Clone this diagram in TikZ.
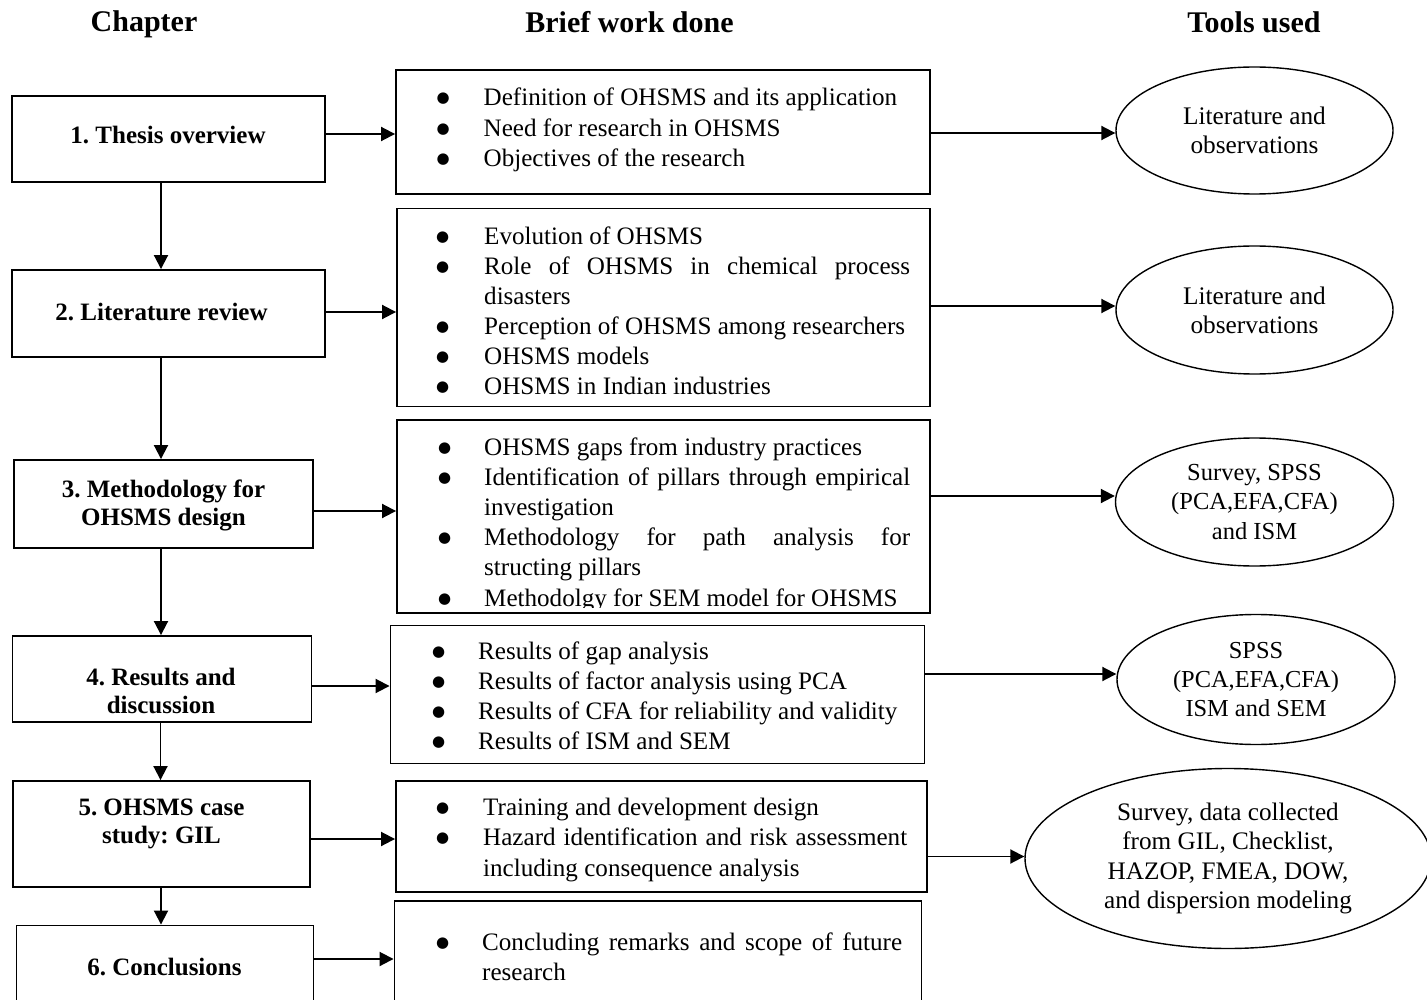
\documentclass[tikz,border=0pt]{standalone}
\usepackage{fontspec}
\setmainfont{Liberation Serif}
\newfontfamily\dotfont{DejaVu Sans}
\usetikzlibrary{arrows.meta,shapes.geometric}
\frenchspacing

% bulleted, justified list with hanging indent
\newlength\bind
\newcommand\bigbullet{\kern-1pt\raisebox{3pt}{\dotfont\fontsize{15}{15}\selectfont ●}}
\newcommand\bitem[1]{\par\hangindent=\bind\hangafter=1\noindent\hbox to\bind{\bigbullet\hfil}#1\par}
\newcommand\blist[4]{\vtop{\hsize=#1\bind=#2\parskip=0pt\parindent=0pt\tolerance=9999\emergencystretch=10pt\fontsize{25.1}{#3}\selectfont #4}}
% centred chapter title, baseline on its first line
\newcommand\ctitle[1]{\vtop{\hsize=290pt\centering #1}}

\begin{document}
\begin{tikzpicture}[x=1pt,y=-1pt,
  chap/.style={draw,line width=1.9pt,inner sep=0},
  chaptext/.style={anchor=base,inner sep=0,font=\fontsize{25}{28.5}\selectfont\bfseries},
  work/.style={draw,line width=1.9pt,inner sep=0},
  worktext/.style={anchor=base west,inner sep=0},
  tool/.style={draw,ellipse,line width=1.4pt,inner sep=0,align=center},
  head/.style={anchor=base,inner sep=0,font=\fontsize{30}{36}\selectfont\bfseries},
  link/.style={line width=1.9pt,-{Triangle[length=14pt,width=14pt]}}]
\useasboundingbox (0,0) rectangle (1427,1000);

% column headings
\node[head] (hc) at (144,32) {Chapter};
\node[head] (hw) at (629.5,33) {Brief work done};
\node[head] (ht) at (1254,33) {Tools used};

% chapter boxes
\node[chap,minimum width=313pt,minimum height=86pt] (c1) at (168.5,139) {};
\node[chap,minimum width=313pt,minimum height=87pt] (c2) at (168.5,313.5) {};
\node[chap,minimum width=299pt,minimum height=88pt] (c3) at (163.5,504) {};
\node[chap,minimum width=299pt,minimum height=86pt] (c4) at (162,679) {};
\node[chap,minimum width=297pt,minimum height=106pt] (c5) at (161.7,834) {};
\node[chap,minimum width=297pt,minimum height=79pt] (c6) at (165,965) {};

\node[chaptext] (c1t) at (168,144) {\ctitle{1. Thesis overview}};
\node[chaptext] (c2t) at (161.5,320) {\ctitle{2. Literature review}};
\node[chaptext] (c3t) at (163.5,497) {\ctitle{3. Methodology for\\OHSMS design}};
\node[chaptext] (c4t) at (161,685) {\ctitle{4. Results and\\discussion}};
\node[chaptext] (c5t) at (161.5,815) {\ctitle{5. OHSMS case\\study: GIL}};
\node[chaptext] (c6t) at (164.5,975) {\ctitle{6. Conclusions}};

% work boxes
\node[work,minimum width=534pt,minimum height=124pt] (m1) at (663,132) {};
\node[work,minimum width=533pt,minimum height=198pt] (m2) at (663.5,307.5) {};
\node[work,minimum width=533pt,minimum height=193pt] (m3) at (663.5,516.5) {};
\node[work,minimum width=534pt,minimum height=138pt] (m4) at (657.5,694.5) {};
\node[work,minimum width=531pt,minimum height=111pt] (m5) at (661.5,836.5) {};
\node[work,minimum width=527pt,minimum height=104pt] (m6) at (658,953) {};

\node[worktext] (m1t) at (437.5,106) {\blist{472.5pt}{46pt}{30.5}{%
  \bitem{Definition of OHSMS and its application}
  \bitem{Need for research in OHSMS}
  \bitem{Objectives of the research}}};
\node[worktext] (m2t) at (437,245) {\blist{473pt}{47pt}{30}{%
  \bitem{Evolution of OHSMS}
  \bitem{Role of OHSMS in chemical process\linebreak disasters}
  \bitem{Perception of OHSMS among researchers}
  \bitem{OHSMS models}
  \bitem{OHSMS in Indian industries}}};
\begin{scope}
  \clip (397,420) rectangle (930,607);
  \node[worktext] (m3t) at (439,455) {\blist{471pt}{45pt}{30.2}{%
    \bitem{OHSMS gaps from industry practices}
    \bitem{Identification of pillars through empirical\linebreak investigation}
    \bitem{Methodology for path analysis for\linebreak structing pillars}
    \bitem{Methodolgy for SEM model for OHSMS}}};
\end{scope}
\node[worktext] (m4t) at (433,659) {\blist{480pt}{45pt}{30.3}{%
  \bitem{Results of gap analysis}
  \bitem{Results of factor analysis using PCA}
  \bitem{Results of CFA for reliability and validity}
  \bitem{Results of ISM and SEM}}};
\node[worktext] (m5t) at (437,815) {\blist{470pt}{46pt}{30.5}{%
  \bitem{Training and development design}
  \bitem{Hazard identification and risk assessment\linebreak including consequence analysis}}};
\node[worktext] (m6t) at (437,950) {\blist{465pt}{45pt}{30}{%
  \bitem{Concluding remarks and scope of future\linebreak research}}};

% tools
\node[tool,minimum width=277pt,minimum height=127pt,font=\fontsize{25.3}{28.5}\selectfont] (e1) at (1254.5,130.5) {Literature and\\observations};
\node[tool,minimum width=277pt,minimum height=128pt,font=\fontsize{25.3}{29}\selectfont] (e2) at (1254.5,310) {Literature and\\observations};
\node[tool,minimum width=278pt,minimum height=128pt,font=\fontsize{24.5}{29.5}\selectfont] (e3) at (1254.5,502) {Survey, SPSS\\(PCA,EFA,CFA)\\and ISM};
\node[tool,minimum width=278pt,minimum height=130pt,font=\fontsize{24.4}{29}\selectfont] (e4) at (1256,679.5) {SPSS\\(PCA,EFA,CFA)\\ISM and SEM};
\node[tool,minimum width=406pt,minimum height=180pt,font=\fontsize{25.2}{29.5}\selectfont] (e5) at (1228,858.5) {Survey, data collected\\from GIL, Checklist,\\HAZOP, FMEA, DOW,\\and dispersion modeling};

% chapter sequence
\draw[link] (c1.south -| 161,0) -- (c2.north -| 161,0);
\draw[link] (c2.south -| 161,0) -- (c3.north -| 161,0);
\draw[link] (c3.south -| 161,0) -- (c4.north -| 161,0);
\draw[link] (c4.south -| 160.5,0) -- (c5.north -| 160.5,0);
\draw[link] (c5.south -| 161,0) -- (c6.north -| 161,0);

% chapter to work done
\draw[link] (c1.east |- 0,134) -- (m1.west |- 0,134);
\draw[link] (c2.east |- 0,312) -- (m2.west |- 0,312);
\draw[link] (c3.east |- 0,511) -- (m3.west |- 0,511);
\draw[link] (c4.east |- 0,686) -- (m4.west |- 0,686);
\draw[link] (c5.east |- 0,839) -- (m5.west |- 0,839);
\draw[link] (c6.east |- 0,959) -- (m6.west |- 0,959);

% work done to tools
\draw[link] (m1.east |- 0,133) -- (e1.west |- 0,133);
\draw[link] (m2.east |- 0,306) -- (e2.west |- 0,306);
\draw[link] (m3.east |- 0,496) -- (e3.west |- 0,496);
\draw[link] (m4.east |- 0,674) -- (e4.west |- 0,674);
\draw[link] (m5.east |- 0,856.5) -- (e5.west |- 0,856.5);
\end{tikzpicture}
\end{document}
